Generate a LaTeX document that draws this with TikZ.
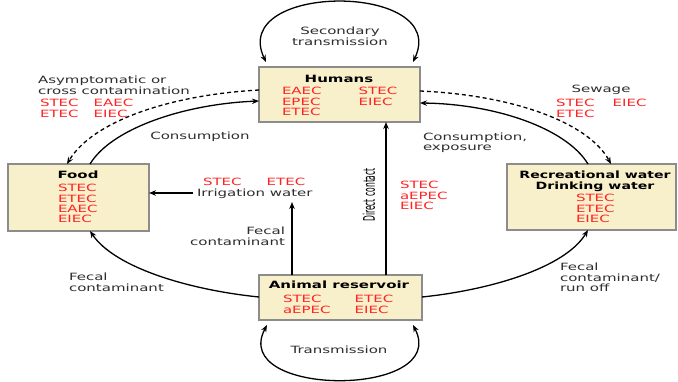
\documentclass[tikz,border=0pt]{standalone}
\usepackage{fontspec}
\setmainfont{DejaVu Sans}[FakeStretch=1.5]
\newfontfamily\rotfont{DejaVu Sans}
\usetikzlibrary{arrows.meta}
\definecolor{codered}{HTML}{FF2424}
\definecolor{boxfill}{HTML}{F8EFCB}
\definecolor{boxline}{HTML}{8C8C8C}
\definecolor{labelgray}{HTML}{2E2E2E}
\newcommand{\tabt}[2]{\begin{tabular}[t]{@{}#1@{}}#2\end{tabular}}
\begin{document}
\begin{tikzpicture}[x=1pt,y=-1pt,
  every node/.style={font=\fontsize{10}{10}\selectfont, inner sep=0pt, outer sep=0pt},
  box/.style={draw=boxline, fill=boxfill, line width=1.3pt},
  lbl/.style={text=labelgray},
  codes/.style={text=codered},
  ttl/.style={font=\fontsize{10}{10}\selectfont\bfseries, text=black},
  arr/.style={-{Stealth[length=7pt,width=5.5pt]}, line width=1.3pt},
  darr/.style={arr, dash pattern=on 4pt off 3pt},
  twoarr/.style={{Stealth[length=7pt,width=5.5pt]}-{Stealth[length=7pt,width=5.5pt]}, line width=1.3pt}
]
\useasboundingbox[fill=white] (0,0) rectangle (678,381);

% boxes
\node[box, minimum width=161pt, minimum height=55pt] (humans) at (339.5,94.5) {};
\node[box, minimum width=141pt, minimum height=67pt] (food) at (78.5,197.5) {};
\node[box, minimum width=169pt, minimum height=66pt] (water) at (591.5,197) {};
\node[box, minimum width=163pt, minimum height=45pt] (animal) at (340.5,297.5) {};

% box contents
\node[ttl, anchor=base] (humanst) at (339,82.6) {Humans};
\node[codes, anchor=base west] (humansc) at (282,94.6) {\tabt{l@{\hspace{37pt}}l}{EAEC & STEC\\EPEC & EIEC\\ETEC &}};
\node[ttl, anchor=base] (foodt) at (78,178.6) {Food};
\node[codes, anchor=base west] (foodc) at (58,191.6) {\tabt{l}{STEC\\ETEC\\EAEC\\EIEC}};
\node[ttl, anchor=base] (watert) at (595,178.6) {\scalebox{0.94}[1]{\tabt{c}{Recreational water\\Drinking water}}};
\node[codes, anchor=base west] (waterc) at (576,201.6) {\tabt{l}{STEC\\ETEC\\EIEC}};
\node[ttl, anchor=base] (animalt) at (339,288.6) {Animal reservoir};
\node[codes, anchor=base west] (animalc) at (283,302.6) {\tabt{l@{\hspace{24pt}}l}{STEC & ETEC\\aEPEC & EIEC}};

% labels
\node[lbl, anchor=base] (sec) at (340,34.6) {\tabt{c}{Secondary\\transmission}};
\node[lbl, anchor=base west] (asym) at (38,83.6) {\tabt{l}{Asymptomatic or\\cross contamination}};
\node[codes, anchor=base west] (asymc) at (40,106.6) {\tabt{l@{\hspace{15pt}}l}{STEC & EAEC\\ETEC & EIEC}};
\node[lbl, anchor=base] (cons) at (200,139.6) {Consumption};
\node[lbl, anchor=base] (sew) at (601,92.6) {Sewage};
\node[codes, anchor=base west] (sewc) at (556,106.6) {\tabt{l@{\hspace{18pt}}l}{STEC & EIEC\\ETEC &}};
\node[lbl, anchor=base west] (consexp) at (423,140.6) {\tabt{l}{Consumption,\\exposure}};
\node[codes, anchor=base west] (irrc) at (203,185.6) {\tabt{l@{\hspace{25pt}}l}{STEC & ETEC}};
\node[lbl, anchor=base west] (irr) at (197,196.6) {Irrigation water};
\node[lbl, anchor=base east] (fecmid) at (285,234.6) {\tabt{r}{Fecal\\contaminant}};
\node[rotate=90, text=black] (direct) at (369,195) {\scalebox{0.76}[1.6]{\rotfont Direct contact}};
\node[codes, anchor=base west] (directc) at (400,188.6) {\tabt{l}{STEC\\aEPEC\\EIEC}};
\node[lbl, anchor=base west] (fecleft) at (69,280.6) {\tabt{l}{Fecal\\contaminant}};
\node[lbl, anchor=base west] (fecright) at (560,270.6) {\tabt{l}{Fecal\\contaminant/\\run off}};
\node[lbl, anchor=base] (trans) at (339,353.6) {Transmission};

% helper coordinates
\coordinate (fectop) at (292,202);
\coordinate (dirx) at (386,0);

% connectors
\draw[twoarr] (266,62) .. controls (228,-18) and (451,-18) .. (413,62);
\draw[twoarr] (267,325) .. controls (228,398) and (451,398) .. (413,325);

\draw[darr] (humans.west |- 0,90) .. controls (168,95) and (92,122) .. (food.north -| 67,0);
\draw[arr] (food.north -| 90,0) .. controls (112,128) and (185,104) .. (humans.west |- 0,101);

\draw[darr] (humans.east |- 0,91) .. controls (512,95) and (588,122) .. (water.north -| 611,0);
\draw[arr] (water.north -| 588,0) .. controls (566,128) and (495,104) .. (humans.east |- 0,103);

\draw[arr] (animal.west |- 0,297) .. controls (190,290) and (115,268) .. (food.south -| 90,0);
\draw[arr] (animal.east |- 0,297) .. controls (490,290) and (565,268) .. (water.south -| 588,0);

\draw[arr] (animal.north -| dirx) -- (humans.south -| dirx);
\draw[arr] (animal.north -| fectop) -- (fectop);
\draw[arr] ([xshift=-4pt]irr.west |- 0,193) -- (food.east |- 0,193);
\end{tikzpicture}
\end{document}
